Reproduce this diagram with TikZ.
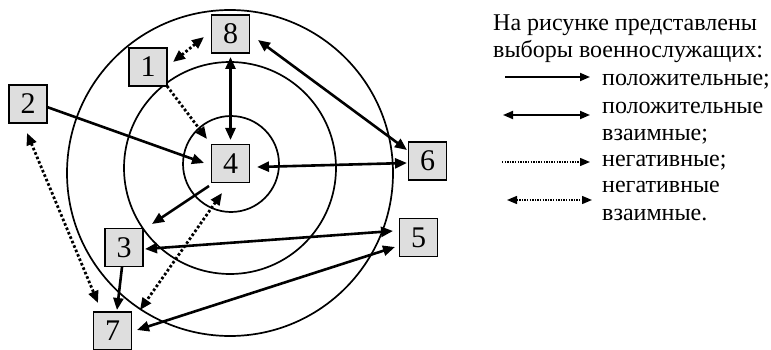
\documentclass[tikz,border=0pt]{standalone}
\usepackage{fontspec}
\setmainfont{Liberation Serif}
\usetikzlibrary{arrows.meta,calc}

\tikzset{
  bigtip/.tip={Triangle[length=12pt,width=10pt]},
  smalltip/.tip={Triangle[length=10pt,width=8pt]},
  ring/.style={line width=1.7pt},
  member/.style={draw, line width=1.8pt, fill=black!13, minimum width=38pt,
    minimum height=38pt, inner sep=0pt, font=\fontsize{30}{30}\selectfont},
  poschoice/.style={line width=2.6pt, -bigtip},
  posmutual/.style={line width=2.6pt, bigtip-bigtip},
  negchoice/.style={line width=2.8pt, dash pattern=on 2.6pt off 2.2pt, -bigtip},
  negmutual/.style={line width=2.8pt, dash pattern=on 2.6pt off 2.2pt, bigtip-bigtip},
  legpos/.style={line width=1.8pt, -smalltip},
  legposmut/.style={line width=1.8pt, smalltip-smalltip},
  legneg/.style={line width=1.4pt, dash pattern=on 1.3pt off 1.3pt, -smalltip},
  legnegmut/.style={line width=1.4pt, dash pattern=on 1.3pt off 1.3pt, smalltip-smalltip},
  legtext/.style={anchor=base west, inner sep=0pt, font=\fontsize{24}{27}\selectfont}
}

\begin{document}
\begin{tikzpicture}[x=1pt,y=-1pt]
\useasboundingbox (0,0) rectangle (771,350);

% the three circles of the group structure
\draw[ring] (230,173) circle [radius=163pt];
\draw[ring] (230,168) circle [radius=106pt];
\draw[ring] (231,164) circle [radius=48pt];

% members
\node[member] (n8) at (230.5,34)  {8};
\node[member] (n1) at (148,67)    {1};
\node[member] (n2) at (28,104)    {2};
\node[member] (n4) at (230.5,163.5) {4};
\node[member] (n6) at (427.5,161) {6};
\node[member] (n3) at (124,247.5) {3};
\node[member] (n5) at (418.5,237.5) {5};
\node[member] (n7) at (112.5,331) {7};

% choices
\draw[negmutual] ($(n1)+(25,-5)$) -- ($(n8)+(-26.5,3)$);
\draw[posmutual] ($(n8)+(0,23)$) -- ($(n4)+(0,-23.5)$);
\draw[posmutual] ($(n8)+(27.5,6)$) -- ($(n6)+(-20.5,-11)$);
\draw[posmutual] ($(n4)+(26.5,3.5)$) -- ($(n6)+(-20.5,2)$);
\draw[poschoice] ($(n2)+(19,3)$) -- ($(n4)+(-26.5,-0.5)$);
\draw[negchoice] ($(n1)+(19,19)$) -- ($(n4)+(-23.5,-24.5)$);
\draw[poschoice] ($(n4)+(-21.5,22.5)$) -- ($(n3)+(28,-23.5)$);
\draw[negmutual] ($(n4)+(-8.5,29.5)$) -- ($(n7)+(27.5,-21)$);
\draw[negmutual] ($(n2)+(-1,29)$) -- ($(n7)+(-14.5,-28)$);
\draw[poschoice] ($(n3)+(-2,19.5)$) -- ($(n7)+(4.5,-21)$);
\draw[posmutual] ($(n3)+(21,1.5)$) -- ($(n5)+(-25.5,-6.5)$);
\draw[posmutual] ($(n7)+(24.5,-1)$) -- ($(n5)+(-23.5,9.5)$);

% legend
\node[legtext] (t1) at (493,31)  {На рисунке представлены};
\node[legtext] (t2) at (493,58)  {выборы военнослужащих:};
\node[legtext] (t3) at (602,86)  {положительные;};
\node[legtext] (t4) at (602,114) {положительные};
\node[legtext] (t5) at (602,141) {взаимные;};
\node[legtext] (t6) at (602,167) {негативные;};
\node[legtext] (t7) at (602,193) {негативные};
\node[legtext] (t8) at (602,220) {взаимные.};

\coordinate (a1) at (505,77);  \coordinate (b1) at (590,77);
\coordinate (a2) at (503,115); \coordinate (b2) at (590,115);
\coordinate (a3) at (502,162); \coordinate (b3) at (590,162);
\coordinate (a4) at (507,200); \coordinate (b4) at (592,200);
\draw[legpos] (a1) -- (b1);
\draw[legposmut] (a2) -- (b2);
\draw[legneg] (a3) -- (b3);
\draw[legnegmut] (a4) -- (b4);
\end{tikzpicture}
\end{document}
